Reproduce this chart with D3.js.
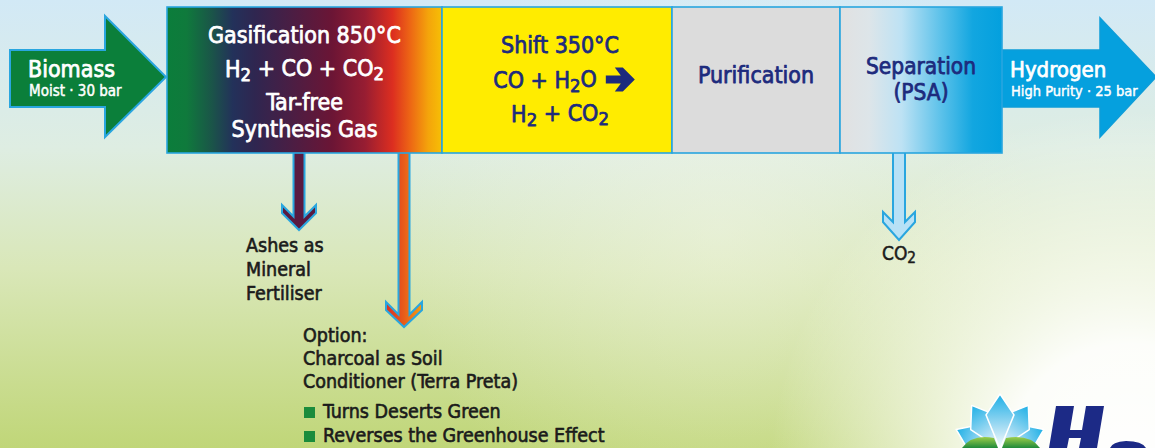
<!DOCTYPE html>
<html>
<head>
<meta charset="utf-8">
<script src="https://cdn.jsdelivr.net/npm/d3@7"></script>
<style>
  html, body { margin: 0; padding: 0; background: #ffffff; }
  svg { display: block; }
  text { font-family: "DejaVu Sans Condensed", "DejaVu Sans", sans-serif; }
</style>
</head>
<body>
<svg id="chart" width="1155" height="448"></svg>
<script>
// ---------- data ----------
const inputLabel = ["Biomass", "Moist · 30 bar"];
const outputLabel = ["Hydrogen", "High Purity · 25 bar"];
const stepNames = ["Gasification", "Shift", "Purification", "Separation"];
const stepLines = [
  ["Gasification 850°C", "H_2 + CO + CO_2", "Tar-free", "Synthesis Gas"],
  ["Shift 350°C", "CO + H_2O", "H_2 + CO_2"],
  ["Purification"],
  ["Separation", "(PSA)"]
];
const ashLines = ["Ashes as", "Mineral", "Fertiliser"];
const charcoalLines = ["Option:", "Charcoal as Soil", "Conditioner (Terra Preta)"];
const benefitLines = ["Turns Deserts Green", "Reverses the Greenhouse Effect"];
const co2Label = ["CO_2"];

// ---------- layout ----------
const W = 1155, H = 448;
const svg = d3.select("#chart");
const defs = svg.append("defs");

const stepEdges = d3.scaleOrdinal().domain(stepNames).range([[167, 442], [442, 672], [672, 840], [840, 1002]]);
const boxTop = 7, boxBottom = 153;

function linGrad(id, stops, attrs) {
  const g = defs.append("linearGradient").attr("id", id);
  Object.entries(attrs).forEach(([k, v]) => g.attr(k, v));
  stops.forEach(s => g.append("stop").attr("offset", s[0]).attr("stop-color", s[1]).attr("stop-opacity", s[2] == null ? 1 : s[2]));
  return g;
}

linGrad("bg", [[0, "#d2e9f6"], [0.33, "#deede2"], [0.6, "#d9e7b8"], [1, "#c0d678"]], {x1: 0, y1: 0, x2: 0, y2: 1});
const rg = defs.append("radialGradient").attr("id", "glow")
  .attr("gradientUnits", "userSpaceOnUse").attr("cx", 1130).attr("cy", 470).attr("r", 360);
[[0, 1], [0.35, 0.95], [0.7, 0.45], [1, 0]].forEach(s => rg.append("stop").attr("offset", s[0]).attr("stop-color", "#ffffff").attr("stop-opacity", s[1]));
const rg2 = defs.append("radialGradient").attr("id", "glow2")
  .attr("gradientUnits", "userSpaceOnUse").attr("cx", 720).attr("cy", 230).attr("r", 320);
[[0, 0.45], [1, 0]].forEach(s => rg2.append("stop").attr("offset", s[0]).attr("stop-color", "#f6f8ea").attr("stop-opacity", s[1]));

linGrad("gasGrad", [
  [0.00, "#0b7d3b"], [0.07, "#0f7a3c"], [0.16, "#1a5648"], [0.24, "#23315a"],
  [0.32, "#2f2650"], [0.45, "#4a1e44"], [0.60, "#6b1535"], [0.72, "#971d32"],
  [0.82, "#dc2e20"], [0.88, "#ec6215"], [0.95, "#f4a40b"], [1.00, "#f7bf05"]
], {gradientUnits: "userSpaceOnUse", x1: 167, x2: 442, y1: 0, y2: 0});

linGrad("sepGrad", [
  [0.00, "#e1e1e1"], [0.18, "#dde5e9"], [0.38, "#bde2f4"], [0.62, "#5dc2ea"],
  [0.82, "#12a6e0"], [1.00, "#03a0de"]
], {gradientUnits: "userSpaceOnUse", x1: 840, x2: 1002, y1: 0, y2: 0});

linGrad("charGrad", [[0, "#dc2f22"], [0.5, "#e85c1a"], [1, "#f4a012"]], {x1: 0, x2: 1, y1: 0, y2: 0});
linGrad("petalGrad", [[0, "#ffffff"], [0.4, "#a6dcf3"], [1, "#1cafe6"]], {x1: 0, x2: 0, y1: 1, y2: 0});
linGrad("leafGrad", [[0, "#9bcd4a"], [1, "#1f8a3a"]], {x1: 0, x2: 0, y1: 0, y2: 1});

// background
svg.append("rect").attr("width", W).attr("height", H).attr("fill", "url(#bg)");
svg.append("rect").attr("width", W).attr("height", H).attr("fill", "url(#glow2)");
svg.append("rect").attr("width", W).attr("height", H).attr("fill", "url(#glow)");

const outline = "#29a6df";
const line = d3.line();

// ---------- input arrow ----------
svg.append("path")
  .attr("d", line([[10, 50], [105, 50], [105, 16], [166, 77], [105, 137], [105, 107], [10, 107]]) + "Z")
  .attr("fill", "#0b7f3a").attr("stroke", outline).attr("stroke-width", 2);

// ---------- output arrow ----------
svg.append("path")
  .attr("d", line([[1001, 50], [1100, 50], [1100, 18], [1156, 77], [1100, 137], [1100, 107], [1001, 107]]) + "Z")
  .attr("fill", "#05a0de").attr("stroke", "#0d9dd9").attr("stroke-width", 1.5);

// ---------- down arrows ----------
function downArrow(cx, yTop, headTop, tip, s, h, k) {
  const join = headTop + (h - s);
  return line([[cx - s, yTop], [cx - s, join], [cx - h, headTop], [cx - h, headTop + k], [cx, tip],
               [cx + h, headTop + k], [cx + h, headTop], [cx + s, join], [cx + s, yTop]]) + "Z";
}
svg.append("path").attr("d", downArrow(299, 150, 205, 230, 5.5, 17, 8))
  .attr("fill", "#5a1a40").attr("stroke", outline).attr("stroke-width", 2);
svg.append("path").attr("d", downArrow(404, 150, 302, 327, 5.5, 18, 8))
  .attr("fill", "url(#charGrad)").attr("stroke", outline).attr("stroke-width", 2);
svg.append("path").attr("d", downArrow(899, 150, 212, 240, 6, 16, 10))
  .attr("fill", "#b7e1f6").attr("stroke", outline).attr("stroke-width", 2);

// ---------- process boxes ----------
const fills = {Gasification: "url(#gasGrad)", Shift: "#ffec00", Purification: "#dcdcdc", Separation: "url(#sepGrad)"};
svg.selectAll("rect.step").data(stepNames).join("rect")
  .attr("class", "step")
  .attr("x", d => stepEdges(d)[0]).attr("y", boxTop)
  .attr("width", d => stepEdges(d)[1] - stepEdges(d)[0]).attr("height", boxBottom - boxTop)
  .attr("fill", d => fills[d]).attr("stroke", outline).attr("stroke-width", 1.6);

// ---------- text helper ----------
function addText(g, str, x, y, opts) {
  const t = g.append("text").attr("x", x).attr("y", y)
    .attr("font-size", opts.size).attr("fill", opts.fill)
    .attr("text-anchor", opts.anchor || "start")
    .attr("stroke", opts.fill).attr("stroke-width", opts.bold == null ? 0.75 : opts.bold)
    .attr("stroke-linejoin", "round");
  const parts = str.split(/(_\d)/).filter(p => p.length);
  let shifted = false;
  parts.forEach(p => {
    if (/^_\d$/.test(p)) {
      t.append("tspan").attr("dy", "0.22em").attr("font-size", opts.size * 0.8).text(p[1]);
      shifted = true;
    } else {
      t.append("tspan").attr("dy", shifted ? "-0.22em" : null).text(p);
      shifted = false;
    }
  });
  return t;
}

const gText = svg.append("g");

addText(gText, inputLabel[0], 28, 77, {size: 23, fill: "#ffffff"});
addText(gText, inputLabel[1], 29, 96, {size: 15, fill: "#ffffff", bold: 0.45});
addText(gText, outputLabel[0], 1010, 77, {size: 22, fill: "#ffffff"});
addText(gText, outputLabel[1], 1011, 96, {size: 14.5, fill: "#ffffff", bold: 0.45});

const stepBaselines = [[43, 77, 110, 137], [53, 88, 122], [83], [74, 100]];
const stepColors = ["#ffffff", "#1d2b7d", "#1d2b7d", "#1d2b7d"];
const stepSizes = [23, 23, 23, 22.5];
const navy = "#1d2b7d";
stepNames.forEach((name, i) => {
  const [x0, x1] = stepEdges(name);
  const cx = (x0 + x1) / 2 + (i === 1 ? 3 : 0);
  stepLines[i].forEach((ln, j) => {
    if (i === 1 && j === 1) {
      // reaction line followed by a heavy arrow symbol
      const arrowW = 29, gap = 9;
      const t = addText(gText, ln, 0, stepBaselines[i][j], {size: stepSizes[i], fill: stepColors[i]});
      const tw = t.node().getComputedTextLength();
      const left = cx + 4 - (tw + gap + arrowW) / 2;
      t.attr("x", left);
      const ax = left + tw + gap, ay = stepBaselines[i][j] - 8.5;
      gText.append("path")
        .attr("d", line([[ax, ay - 4], [ax + 15, ay - 4], [ax + 9, ay - 12], [ax + 17, ay - 12],
                         [ax + arrowW, ay], [ax + 17, ay + 12], [ax + 9, ay + 12], [ax + 15, ay + 4], [ax, ay + 4]]) + "Z")
        .attr("fill", navy);
    } else {
      addText(gText, ln, cx, stepBaselines[i][j], {size: stepSizes[i], fill: stepColors[i], anchor: "middle"});
    }
  });
});

const dark = "#1b1b1b";
ashLines.forEach((ln, j) => addText(gText, ln, 246, 252 + j * 24, {size: 19.5, fill: dark, bold: 0.6}));
const charBase = [342, 365, 388];
charcoalLines.forEach((ln, j) => addText(gText, ln, 303, charBase[j], {size: 19.5, fill: dark, bold: 0.6}));
benefitLines.forEach((ln, j) => {
  const y = 418 + j * 24;
  gText.append("rect").attr("x", 304).attr("y", y - 11).attr("width", 11).attr("height", 11).attr("fill", "#1b8c3c");
  addText(gText, ln, 323, y, {size: 19.5, fill: dark, bold: 0.6});
});
addText(gText, co2Label[0], 899, 260, {size: 19, fill: dark, anchor: "middle", bold: 0.5});

// ---------- logo mark (partial, bottom right) ----------
const logo = svg.append("g");
const pc = [1000, 449];
const petal = (len, wid) => line([[0, 0], [-wid, -len * 0.62], [0, -len], [wid, -len * 0.62]]) + "Z";
[[-66, 48, 13], [66, 48, 13], [-33, 52, 14], [33, 52, 14], [0, 55, 14]].forEach(([a, len, wid]) => {
  logo.append("path").attr("d", petal(len, wid))
    .attr("transform", `translate(${pc[0]},${pc[1]}) rotate(${a})`)
    .attr("fill", "url(#petalGrad)").attr("stroke", "#ffffff").attr("stroke-width", 1.5).attr("stroke-linejoin", "round");
});
logo.append("path").attr("d", "M962,448 Q972,434 994,438 L998,448 Z").attr("fill", "url(#leafGrad)");
logo.append("path").attr("d", "M1040,448 Q1030,434 1006,438 L1002,448 Z").attr("fill", "url(#leafGrad)");
logo.append("path")
  .attr("d", line([[1056, 406], [1074, 406], [1070, 430], [1082, 430], [1086, 406], [1104, 406],
                   [1097, 448], [1079, 448], [1081, 438], [1069, 438], [1067, 448], [1049, 448]]) + "Z")
  .attr("fill", "#1c2a86");
logo.append("path").attr("d", "M1110,448 Q1112,442 1126,441 Q1142,441 1146,448 Z").attr("fill", "#1c2a86");
</script>
</body>
</html>
